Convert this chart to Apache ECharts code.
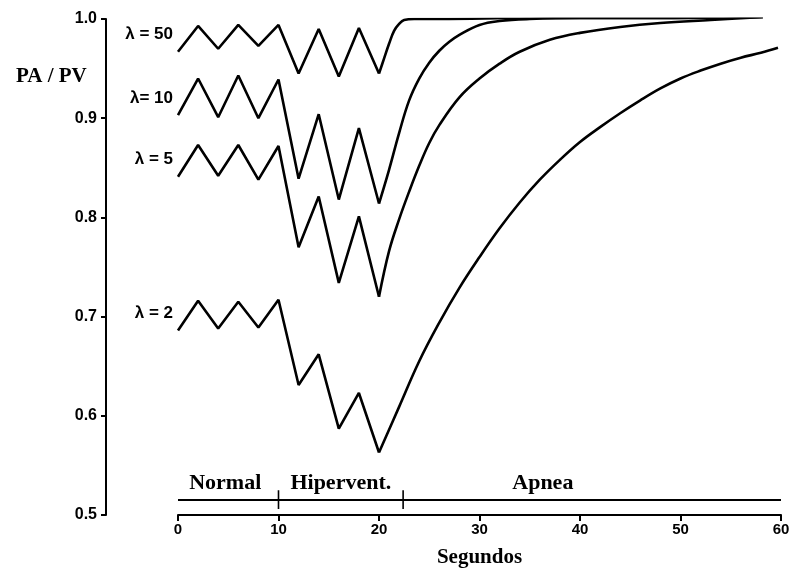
<!DOCTYPE html>
<html>
<head>
<meta charset="utf-8">
<script src="https://cdn.jsdelivr.net/npm/echarts@6/dist/echarts.min.js"></script>
<style>
html,body{margin:0;padding:0;background:#fff;}
#chart{width:794px;height:576px;}
</style>
</head>
<body>
<div id="chart"></div>
<script>
// ---- data ----
var curveNames = ['λ = 50', 'λ= 10', 'λ = 5', 'λ = 2'];
var breathTimes = [0, 2, 4, 6, 8, 10, 12, 14, 16, 18, 20];
var breath50 = [0.967, 0.993, 0.970, 0.994, 0.973, 0.994, 0.945, 0.990, 0.942, 0.991, 0.945];
var breath10 = [0.903, 0.940, 0.901, 0.943, 0.900, 0.939, 0.839, 0.904, 0.818, 0.890, 0.814];
var breath5  = [0.841, 0.873, 0.842, 0.873, 0.838, 0.872, 0.770, 0.821, 0.734, 0.801, 0.720];
var breath2  = [0.686, 0.716, 0.688, 0.715, 0.689, 0.717, 0.631, 0.662, 0.587, 0.623, 0.563];

var apneaTimes50 = [20, 20.5, 21, 21.5, 22, 22.5, 23.5, 26, 35, 45, 58.2];
var apneaVals50  = [0.945, 0.960, 0.975, 0.988, 0.995, 0.999, 1.0, 1.0, 1.001, 1.001, 1.002];
var apneaTimes10 = [20, 21, 22, 23, 24, 25, 26, 27, 28, 30, 32, 35, 40, 50, 58.2];
var apneaVals10  = [0.814, 0.848, 0.885, 0.918, 0.940, 0.956, 0.968, 0.977, 0.984, 0.994, 0.998, 1.0, 1.001, 1.001, 1.002];
var apneaTimes5  = [20, 21, 22, 23, 24, 25, 26, 28, 30, 32, 34, 37, 40, 44, 48, 53, 58.2];
var apneaVals5   = [0.720, 0.766, 0.798, 0.826, 0.852, 0.875, 0.893, 0.921, 0.940, 0.955, 0.967, 0.979, 0.986, 0.992, 0.996, 0.999, 1.002];
var apneaTimes2  = [20, 22, 24, 26, 28, 30, 32, 34, 36, 38, 40, 42, 44, 46, 48, 50, 52, 54, 56, 58, 59.7];
var apneaVals2   = [0.563, 0.609, 0.655, 0.694, 0.729, 0.760, 0.789, 0.815, 0.838, 0.858, 0.876, 0.891, 0.905, 0.918, 0.930, 0.940, 0.948, 0.955, 0.961, 0.966, 0.971];

var phaseNames = ['Normal', 'Hipervent.', 'Apnea'];
var phaseBounds = [0, 10, 22.4, 60];
var phaseLabelAt = [4.7, 16.2, 36.3];
var phaseBarLevel = 0.515;
var phaseTickSpan = [0.506, 0.525];
var phaseLabelLevel = 0.532;

var yTicks = [0.5, 0.6, 0.7, 0.8, 0.9, 1.0];
var xTicks = [0, 10, 20, 30, 40, 50, 60];

// ---- build ----
function zip(xs, ys) { return xs.map(function (x, i) { return [x, ys[i]]; }); }
var breathSets = [breath50, breath10, breath5, breath2];
var apneaSets = [[apneaTimes50, apneaVals50], [apneaTimes10, apneaVals10], [apneaTimes5, apneaVals5], [apneaTimes2, apneaVals2]];

var SANS = 'Liberation Sans, Arial, sans-serif';
var SERIF = 'Liberation Serif, Times New Roman, serif';
var lineStyle = { color: '#000', width: 2.6 };

var series = [];
breathSets.forEach(function (vals, k) {
  var d = zip(breathTimes, vals).map(function (p, i) {
    if (i === 0) {
      return { value: p, label: { show: true, formatter: curveNames[k], position: 'left', distance: 5, offset: [0, -17],
        color: '#000', fontSize: 17, fontWeight: 'bold', fontFamily: SANS } };
    }
    return p;
  });
  series.push({ type: 'line', data: d, symbol: 'circle', symbolSize: 0, showSymbol: true, showAllSymbol: true,
    itemStyle: { color: '#000', opacity: 1 }, label: { show: false },
    lineStyle: lineStyle, z: 3, silent: true });
  series.push({ type: 'line', data: zip(apneaSets[k][0], apneaSets[k][1]), symbol: 'none', showSymbol: false,
    smooth: 0.4, lineStyle: lineStyle, z: 3, silent: true });
});

// phase bar
series.push({ type: 'line', data: [[phaseBounds[0], phaseBarLevel], [phaseBounds[phaseBounds.length - 1], phaseBarLevel]],
  symbol: 'none', lineStyle: { color: '#000', width: 2 }, silent: true });
phaseBounds.slice(1, -1).forEach(function (b) {
  series.push({ type: 'line', data: [[b, phaseTickSpan[0]], [b, phaseTickSpan[1]]],
    symbol: 'none', lineStyle: { color: '#000', width: 1.6 }, silent: true });
});
series.push({ type: 'scatter', symbolSize: 0, silent: true, itemStyle: { color: '#000', opacity: 1 },
  data: phaseNames.map(function (n, i) { return { value: [phaseLabelAt[i], phaseLabelLevel], name: n }; }),
  label: { show: true, position: 'inside', formatter: '{b}', color: '#000', opacity: 1, fontSize: 22, fontWeight: 'bold', fontFamily: SERIF } });

var chart = echarts.init(document.getElementById('chart'), null, { renderer: 'canvas' });
chart.setOption({
  animation: false,
  backgroundColor: '#fff',
  title: { text: 'PA / PV', left: 11, top: 61,
    textStyle: { fontFamily: SERIF, fontWeight: 'bold', fontSize: 21, color: '#000' } },
  grid: { left: 178, right: 13, top: 19, bottom: 61 },
  xAxis: {
    type: 'value', min: xTicks[0], max: xTicks[xTicks.length - 1], interval: 10,
    axisLine: { onZero: false, lineStyle: { color: '#000', width: 2 } },
    axisTick: { length: 6, lineStyle: { color: '#000', width: 2 } },
    axisLabel: { color: '#000', fontSize: 15, fontWeight: 'bold', fontFamily: SANS, margin: 7 },
    splitLine: { show: false },
    name: 'Segundos', nameLocation: 'middle', nameGap: 32,
    nameTextStyle: { fontFamily: SERIF, fontWeight: 'bold', fontSize: 21, color: '#000' }
  },
  yAxis: {
    type: 'value', min: yTicks[0], max: yTicks[yTicks.length - 1], interval: 0.1, offset: 72,
    axisLine: { onZero: false, lineStyle: { color: '#000', width: 2 } },
    axisTick: { length: 5, lineStyle: { color: '#000', width: 2 } },
    axisLabel: { color: '#000', fontSize: 16, fontWeight: 'bold', fontFamily: SANS, margin: 9,
      formatter: function (v) { return v.toFixed(1); } },
    splitLine: { show: false }
  },
  series: series
});
</script>
</body>
</html>
